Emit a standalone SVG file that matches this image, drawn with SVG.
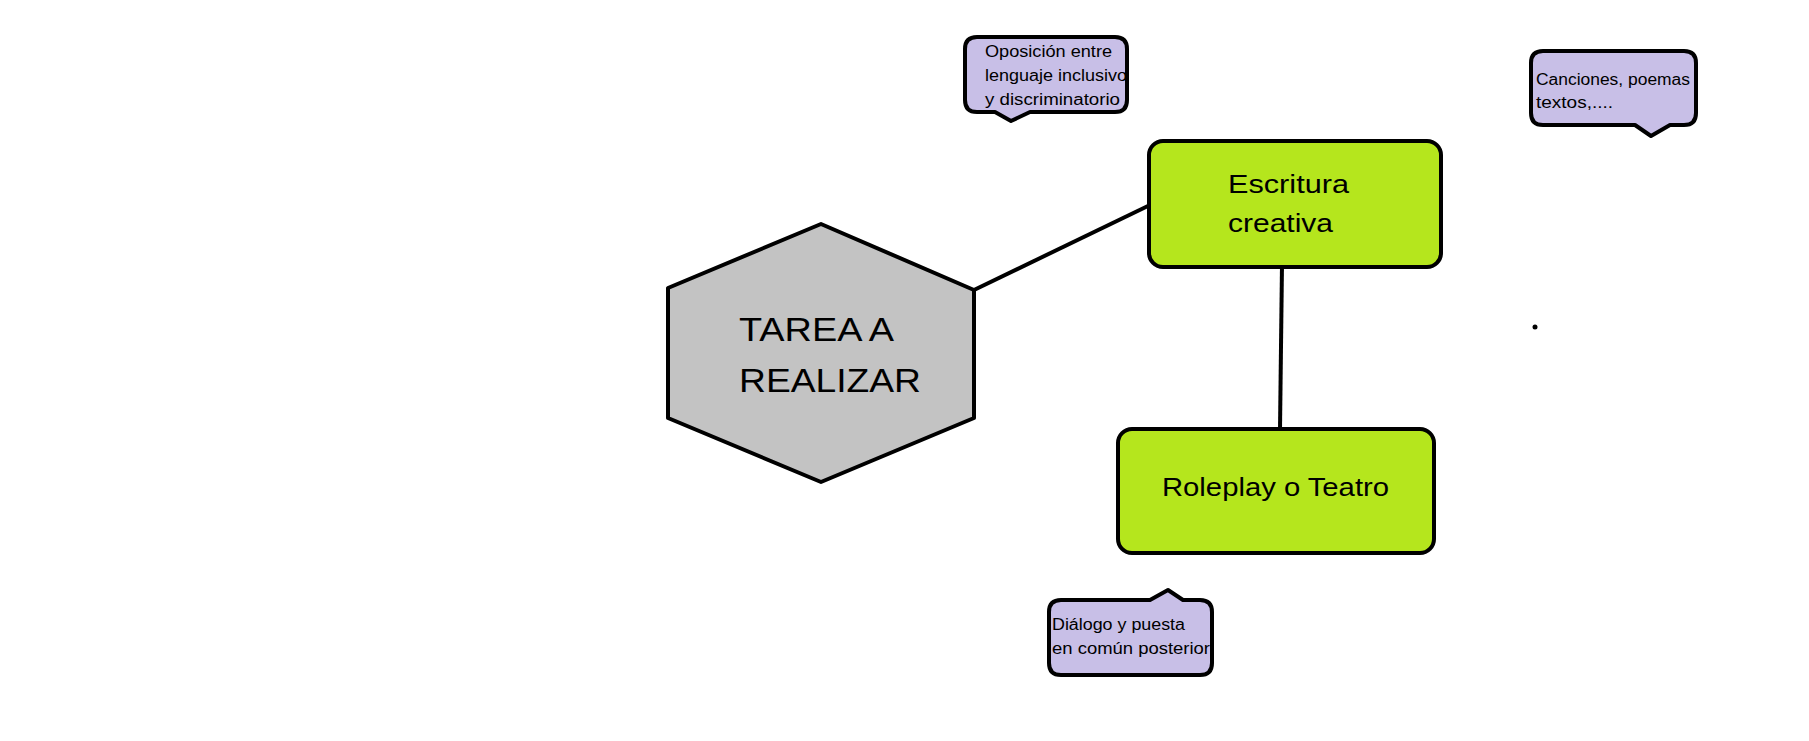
<svg xmlns="http://www.w3.org/2000/svg" width="1809" height="741" viewBox="0 0 1809 741">
<style>
.n{stroke:#000;stroke-width:4;stroke-linejoin:round}
.g{fill:#b5e61d}
.c{fill:#c8bfe7;stroke:#000;stroke-width:4;stroke-linejoin:round}
text{font-family:"Liberation Sans","DejaVu Sans",sans-serif;fill:#000}
.s{font-size:16px}
.m{font-size:25px}
</style>
<rect width="1809" height="741" fill="#fff"/>
<g id="connectors" stroke="#000" stroke-width="4" fill="none">
<line x1="974" y1="290" x2="1150" y2="205"/>
<line x1="1282" y1="264" x2="1280" y2="429"/>
</g>
<g id="tarea">
<polygon class="n" fill="#c3c3c3" points="821,224 974,290 974,418 821,482 668,418 668,288"/>
<text x="739" y="341" font-size="34" textLength="155" lengthAdjust="spacingAndGlyphs">TAREA A</text>
<text x="739" y="392" font-size="34" textLength="182" lengthAdjust="spacingAndGlyphs">REALIZAR</text>
</g>
<g id="escritura">
<rect class="n g" x="1149" y="141" width="292" height="126" rx="14"/>
<text class="m" x="1228" y="193" textLength="121" lengthAdjust="spacingAndGlyphs">Escritura</text>
<text class="m" x="1228" y="232" textLength="105" lengthAdjust="spacingAndGlyphs">creativa</text>
</g>
<g id="roleplay">
<rect class="n g" x="1118" y="429" width="316" height="124" rx="14"/>
<text class="m" x="1162" y="496" textLength="227" lengthAdjust="spacingAndGlyphs">Roleplay o Teatro</text>
</g>
<g id="callout1">
<path class="c" d="M977,37 H1115 Q1127,37 1127,49 V100 Q1127,112 1115,112 H1030 L1011,121 L995,112 H977 Q965,112 965,100 V49 Q965,37 977,37 Z"/>
<text class="s" x="985" y="57" textLength="127" lengthAdjust="spacingAndGlyphs">Oposición entre</text>
<text class="s" x="985" y="81" textLength="142" lengthAdjust="spacingAndGlyphs">lenguaje inclusivo</text>
<text class="s" x="985" y="105" textLength="135" lengthAdjust="spacingAndGlyphs">y discriminatorio</text>
</g>
<g id="callout2">
<path class="c" d="M1543,51 H1684 Q1696,51 1696,63 V113 Q1696,125 1684,125 H1670 L1651,136 L1635,125 H1543 Q1531,125 1531,113 V63 Q1531,51 1543,51 Z"/>
<text class="s" x="1536" y="85" textLength="154" lengthAdjust="spacingAndGlyphs">Canciones, poemas</text>
<text class="s" x="1536" y="108" textLength="77" lengthAdjust="spacingAndGlyphs">textos,....</text>
</g>
<g id="callout3">
<path class="c" d="M1061,600 H1150 L1168,590 L1183,600 H1200 Q1212,600 1212,612 V663 Q1212,675 1200,675 H1061 Q1049,675 1049,663 V612 Q1049,600 1061,600 Z"/>
<text class="s" x="1052" y="630" textLength="133" lengthAdjust="spacingAndGlyphs">Diálogo y puesta</text>
<text class="s" x="1052" y="654" textLength="158" lengthAdjust="spacingAndGlyphs">en común posterior</text>
</g>
<circle cx="1535" cy="327" r="2.5" fill="#000"/>
</svg>
